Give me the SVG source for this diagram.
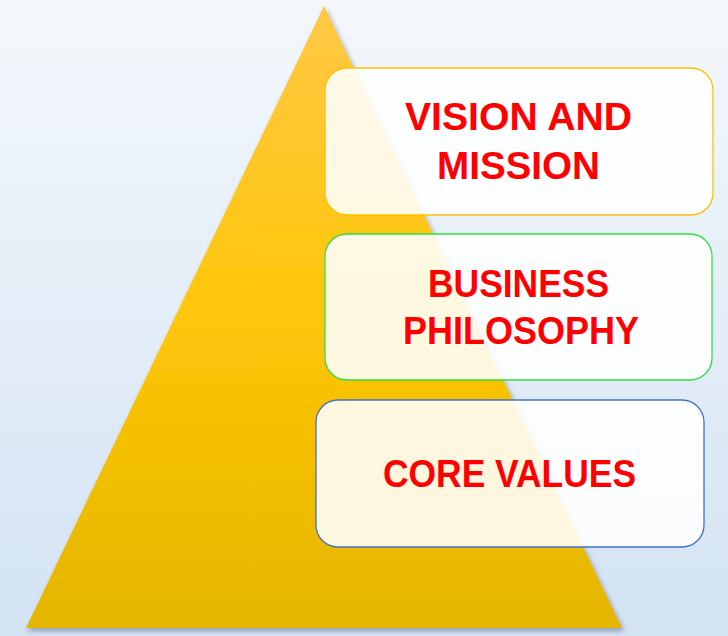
<svg xmlns="http://www.w3.org/2000/svg" width="728" height="636" viewBox="0 0 728 636">
<defs>
<linearGradient id="bg" x1="0" y1="0" x2="0" y2="1">
<stop offset="0" stop-color="#F4F8FC"/>
<stop offset="1" stop-color="#D3E3F3"/>
</linearGradient>
<linearGradient id="tri" x1="0" y1="0" x2="0" y2="1">
<stop offset="0" stop-color="#FFC845"/>
<stop offset="0.5" stop-color="#FFC608"/>
<stop offset="1" stop-color="#E4B600"/>
</linearGradient>
<filter id="sh" x="-10%" y="-10%" width="120%" height="120%">
<feDropShadow dx="2" dy="3" stdDeviation="2.5" flood-color="#3A4A66" flood-opacity="0.45"/>
</filter>
<style>
.box{fill:#FFFFFF;fill-opacity:0.88;stroke-width:1.3}
.t{font-family:"Liberation Sans",Arial,sans-serif;font-weight:bold;font-size:39px;fill:#FF0000;text-anchor:middle}
</style>
</defs>
<rect width="728" height="636" fill="url(#bg)"/>
<g id="pyramid">
<polygon points="324,6 622,628 26,628" fill="url(#tri)" filter="url(#sh)"/>
</g>
<g id="vision">
<rect class="box" x="325" y="68" width="388" height="147" rx="22" stroke="#FFC000"/>
<text class="t" x="518.5" y="130" textLength="227" lengthAdjust="spacingAndGlyphs">VISION AND</text>
<text class="t" x="518.5" y="179" textLength="163" lengthAdjust="spacingAndGlyphs">MISSION</text>
</g>
<g id="philosophy">
<rect class="box" x="325" y="234" width="387" height="146" rx="22" stroke="#33DD44"/>
<text class="t" x="518.5" y="297" textLength="181" lengthAdjust="spacingAndGlyphs">BUSINESS</text>
<text class="t" x="521" y="344" textLength="236" lengthAdjust="spacingAndGlyphs">PHILOSOPHY</text>
</g>
<g id="core">
<rect class="box" x="316" y="400" width="388" height="147" rx="22" stroke="#4472C4"/>
<text class="t" x="509.5" y="487" textLength="253" lengthAdjust="spacingAndGlyphs">CORE VALUES</text>
</g>
<g id="connectors"/>
</svg>
